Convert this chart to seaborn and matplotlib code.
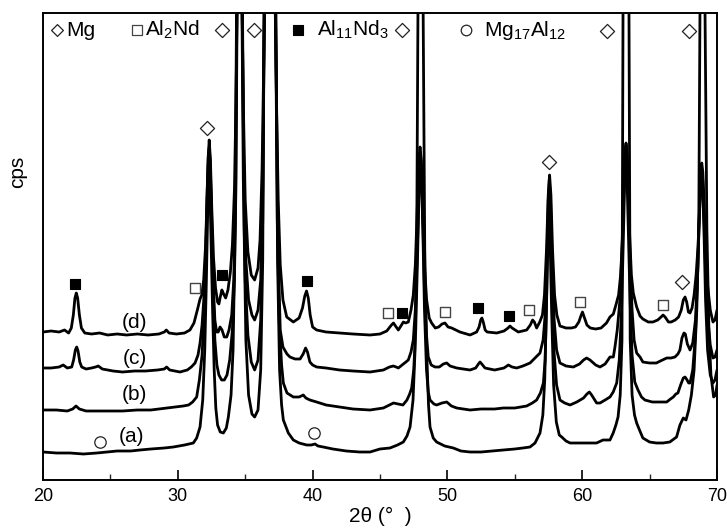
import matplotlib
matplotlib.use("Agg")
import matplotlib.pyplot as plt
import seaborn as sns
import pandas as pd
from matplotlib.ticker import MultipleLocator

# ---------------- data ----------------
# x = 2theta (deg), y = intensity in arbitrary units (axis shows no scale)
curve_d = [(20.0,148),(20.6,149),(21.2,148),(21.6,150),(21.9,147),(22.1,152),(22.25,165),(22.37,182),(22.47,187),(22.57,182),(22.7,165),(22.85,152),(23.1,147),(23.6,146),(24.2,147),(24.8,145),(25.5,146),(26.2,145),(27.0,146),(27.8,145),(28.6,146),(29.0,148),(29.15,150),(29.35,147),(29.9,146),(30.5,147),(30.9,150),(31.2,157),(31.45,170),(31.65,181),(31.78,185),(31.92,200),(32.05,232),(32.15,272),(32.25,322),(32.33,340),(32.42,320),(32.52,272),(32.65,222),(32.8,192),(32.95,178),(33.05,176),(33.15,183),(33.27,190),(33.4,186),(33.55,182),(33.72,190),(33.9,208),(34.05,235),(34.2,290),(34.32,380),(34.4,470),(34.58,1500),(34.77,470),(34.87,370),(35.0,280),(35.2,228),(35.45,205),(35.7,200),(35.95,212),(36.1,240),(36.25,310),(36.38,420),(36.45,480),(36.83,2000),(37.22,480),(37.32,380),(37.45,280),(37.6,215),(37.8,180),(38.08,163),(38.57,158),(39.0,162),(39.25,172),(39.42,184),(39.55,189),(39.68,182),(39.82,165),(40.0,153),(40.3,150),(41.0,148),(42.0,147),(43.0,146),(44.26,145),(45.0,146),(45.5,149),(45.85,155),(46.0,157),(46.15,154),(46.36,150),(46.55,154),(46.73,158),(46.9,157),(47.1,158),(47.3,170),(47.47,185),(47.62,215),(47.75,265),(47.88,320),(47.97,333),(48.06,320),(48.18,265),(48.32,210),(48.46,180),(48.65,162),(48.83,157),(49.1,152),(49.35,153),(49.6,156),(49.82,157),(50.05,153),(50.32,152),(50.93,148),(51.68,145),(52.17,148),(52.35,153),(52.47,160),(52.56,162),(52.66,158),(52.8,150),(52.95,148),(53.66,147),(54.2,149),(54.5,152),(54.64,154),(54.8,152),(55.26,148),(55.88,150),(56.15,155),(56.32,160),(56.45,158),(56.62,152),(56.85,158),(57.05,165),(57.2,185),(57.35,230),(57.48,285),(57.58,305),(57.68,285),(57.8,230),(57.95,185),(58.12,165),(58.35,154),(58.8,152),(59.2,152),(59.5,153),(59.75,158),(59.9,164),(60.02,168),(60.15,163),(60.35,155),(60.6,152),(61.0,151),(61.4,152),(61.8,157),(62.06,163),(62.31,166),(62.5,175),(62.7,185),(62.85,205),(63.0,245),(63.1,290),(63.18,325),(63.25,337),(63.33,325),(63.42,290),(63.52,245),(63.65,205),(63.79,187),(64.04,173),(64.29,164),(64.5,161),(64.9,158),(65.25,158),(65.6,160),(65.85,163),(66.0,165),(66.15,163),(66.4,158),(66.6,158),(66.9,160),(67.15,163),(67.35,170),(67.5,180),(67.63,183),(67.75,178),(67.88,168),(68.0,167),(68.15,172),(68.3,185),(68.45,205),(68.6,235),(68.72,280),(68.8,310),(68.87,317),(68.95,308),(69.05,275),(69.15,230),(69.3,195),(69.5,170),(69.7,158),(69.85,160),(70.0,170)]

curve_c = [(20.0,112),(20.6,112),(21.2,113),(21.5,115),(21.8,112),(22.13,113),(22.27,120),(22.4,130),(22.5,133),(22.6,129),(22.73,118),(22.87,113),(23.2,111),(23.6,112),(23.9,113),(24.1,114),(24.4,111),(25.2,109),(25.9,108),(26.8,109),(27.6,109),(28.5,110),(29.0,111),(29.17,113),(29.4,110),(30.16,108),(30.7,110),(31.0,113),(31.28,117),(31.5,125),(31.65,137),(31.8,155),(31.95,185),(32.08,230),(32.18,290),(32.27,325),(32.33,332),(32.4,320),(32.5,270),(32.62,200),(32.75,160),(32.88,148),(33.0,148),(33.13,153),(33.28,150),(33.45,143),(33.63,143),(33.8,150),(34.0,165),(34.15,200),(34.28,280),(34.38,470),(34.58,1500),(34.78,470),(34.9,300),(35.05,220),(35.25,180),(35.5,165),(35.7,160),(35.95,170),(36.15,200),(36.3,290),(36.42,470),(36.83,2000),(37.25,470),(37.38,300),(37.5,200),(37.6,150),(37.8,133),(38.1,126),(38.32,123),(38.7,121),(39.07,121),(39.3,126),(39.48,132),(39.62,128),(39.8,118),(40.0,115),(40.3,113),(41.0,112),(42.0,110),(43.0,109),(44.26,108),(45.25,110),(45.7,113),(45.99,114),(46.2,113),(46.36,112),(46.55,114),(46.73,116),(46.92,118),(47.1,120),(47.3,128),(47.47,140),(47.62,170),(47.77,230),(47.9,300),(47.98,328),(48.06,318),(48.18,260),(48.3,190),(48.45,145),(48.58,123),(48.8,115),(49.08,113),(49.4,113),(49.7,116),(49.95,117),(50.2,114),(50.69,112),(51.2,111),(51.68,110),(52.1,112),(52.3,116),(52.42,118),(52.55,116),(52.79,112),(53.5,110),(54.2,112),(54.52,115),(54.8,113),(55.14,112),(55.6,114),(56.13,117),(56.5,122),(56.87,127),(57.1,140),(57.25,165),(57.38,220),(57.48,280),(57.56,300),(57.65,280),(57.77,220),(57.92,160),(58.1,130),(58.35,117),(58.8,114),(59.34,113),(59.8,116),(60.1,120),(60.33,122),(60.58,120),(61.0,115),(61.32,113),(61.7,116),(62.06,123),(62.31,123),(62.43,133),(62.6,150),(62.8,180),(62.95,230),(63.08,290),(63.18,328),(63.25,335),(63.33,322),(63.43,280),(63.55,220),(63.7,170),(63.85,140),(64.04,127),(64.29,123),(64.5,118),(65.0,117),(65.5,117),(65.8,119),(66.27,122),(66.6,122),(66.88,123),(67.1,126),(67.25,130),(67.4,142),(67.55,147),(67.65,146),(67.8,136),(68.0,130),(68.2,137),(68.4,160),(68.55,200),(68.68,260),(68.78,300),(68.86,310),(68.94,300),(69.05,260),(69.15,210),(69.3,165),(69.5,135),(69.7,122),(69.85,123),(70.0,130)]

curve_b = [(20.0,70),(21.0,70),(21.8,69),(22.2,71),(22.45,74),(22.7,71),(23.2,69),(24.0,69),(25.0,69),(25.9,69),(27.0,70),(28.0,70),(29.17,72),(29.8,73),(30.4,74),(30.8,75),(31.1,78),(31.4,83),(31.6,100),(31.8,125),(31.95,165),(32.08,220),(32.18,280),(32.27,318),(32.33,325),(32.4,315),(32.5,260),(32.62,190),(32.75,140),(32.9,115),(33.05,105),(33.25,100),(33.45,100),(33.65,105),(33.85,120),(34.05,150),(34.2,200),(34.32,300),(34.4,470),(34.58,1500),(34.76,470),(34.86,300),(35.0,200),(35.2,145),(35.45,118),(35.7,110),(35.95,120),(36.15,160),(36.3,260),(36.42,470),(36.83,2000),(37.25,470),(37.38,260),(37.52,160),(37.7,115),(37.83,97),(38.1,87),(38.57,83),(39.0,83),(39.31,85),(39.5,82),(39.8,80),(40.3,78),(41.0,75),(42.0,73),(43.0,71),(44.26,70),(45.25,72),(46.0,77),(46.35,76),(46.7,75),(47.0,80),(47.2,86),(47.35,92),(47.5,110),(47.65,150),(47.78,220),(47.9,290),(47.98,322),(48.06,312),(48.18,250),(48.3,170),(48.45,110),(48.58,88),(48.71,80),(49.0,76),(49.2,75),(49.6,77),(49.95,78),(50.3,74),(50.69,72),(51.68,70),(52.5,71),(53.5,71),(54.15,72),(55.0,72),(55.88,74),(56.3,77),(56.62,80),(56.9,87),(57.12,97),(57.25,120),(57.36,180),(57.46,250),(57.54,285),(57.63,265),(57.75,200),(57.9,130),(58.1,95),(58.35,80),(58.7,77),(59.1,75),(59.6,78),(60.1,82),(60.35,86),(60.53,88),(60.7,85),(61.07,77),(61.32,77),(61.7,80),(62.06,83),(62.3,88),(62.56,97),(62.75,120),(62.92,170),(63.05,240),(63.15,300),(63.24,322),(63.32,305),(63.42,250),(63.55,180),(63.7,125),(63.9,98),(64.14,90),(64.4,83),(64.65,80),(65.2,78),(65.8,78),(66.27,78),(66.55,81),(66.76,83),(66.95,86),(67.1,87),(67.3,95),(67.5,102),(67.63,103),(67.78,100),(67.9,97),(68.0,97),(68.2,110),(68.4,145),(68.55,200),(68.68,260),(68.78,295),(68.86,305),(68.94,290),(69.05,240),(69.15,180),(69.3,130),(69.5,105),(69.7,97),(69.85,100),(70.0,110)]

curve_a = [(20.0,28),(21.0,27),(22.0,27),(23.0,26),(24.0,27),(24.72,28),(25.5,29),(26.5,29),(27.2,30),(28.0,31),(29.0,32),(29.67,33),(30.5,35),(31.15,37),(31.4,42),(31.65,53),(31.85,80),(32.0,130),(32.12,200),(32.22,270),(32.3,310),(32.36,305),(32.45,250),(32.58,170),(32.7,110),(32.82,72),(32.95,55),(33.15,48),(33.38,47),(33.6,52),(33.75,63),(33.95,85),(34.1,130),(34.25,250),(34.36,470),(34.58,1500),(34.8,470),(34.92,250),(35.05,140),(35.25,85),(35.5,66),(35.7,63),(35.95,70),(36.15,110),(36.3,220),(36.4,470),(36.83,2000),(37.28,470),(37.4,220),(37.55,110),(37.7,75),(37.83,60),(38.2,47),(38.57,40),(39.0,37),(39.56,35),(39.9,35),(40.18,36),(40.4,34),(40.79,33),(41.5,31),(42.5,29),(43.5,28),(44.26,28),(45.0,31),(45.74,32),(46.3,35),(46.73,38),(47.0,44),(47.23,53),(47.45,80),(47.6,130),(47.72,230),(47.82,470),(48.02,2000),(48.2,470),(48.32,230),(48.46,130),(48.6,75),(48.71,53),(48.95,42),(49.2,38),(49.8,34),(50.44,32),(51.0,29),(51.68,28),(52.5,28),(53.3,29),(54.15,30),(55.0,31),(55.6,32),(56.13,33),(56.5,37),(56.87,47),(57.08,65),(57.22,100),(57.34,170),(57.44,240),(57.52,270),(57.61,245),(57.73,170),(57.88,95),(58.08,58),(58.3,45),(58.48,43),(58.8,39),(59.1,37),(60.0,37),(60.58,37),(61.07,37),(61.54,40),(62.06,40),(62.3,47),(62.5,55),(62.66,63),(62.82,85),(62.95,140),(63.03,470),(63.24,2000),(63.47,470),(63.56,140),(63.7,85),(63.88,65),(64.04,57),(64.25,50),(64.5,42),(65.0,38),(65.5,37),(66.0,37),(66.5,38),(67.0,43),(67.25,55),(67.5,62),(67.7,60),(67.9,70),(68.1,85),(68.3,110),(68.5,170),(68.65,260),(68.74,470),(68.92,2000),(69.11,470),(69.25,250),(69.4,150),(69.55,105),(69.75,83),(69.9,85),(70.0,95)]

curve_names = ["(a)", "(b)", "(c)", "(d)"]
curve_label_x = [26.6, 26.75, 26.82, 26.82]
curve_label_y = [43, 85, 122, 158]

# phase markers: (2theta, height)
mg_x = [33.28, 35.65, 32.17, 46.61, 57.56, 61.82, 67.95, 67.43]
mg_y = [450, 450, 352, 450, 318, 449, 449, 198]
al2nd_x = [31.28, 45.59, 49.82, 56.05, 59.84, 66.0]
al2nd_y = [192, 167, 168, 170, 178, 175]
al11nd3_x = [22.37, 33.28, 39.58, 46.63, 52.27, 54.57]
al11nd3_y = [196, 205, 199, 167, 172, 164]
mg17al12_x = [24.23, 40.1]
mg17al12_y = [38, 47]

# key at the top
key_marker_x = [21.04, 26.97, 38.9, 51.38]
key_text_x = [21.72, 27.6, 40.35, 52.68]
key_y = 450
key_texts = ["Mg", r"Al$_\mathregular{2}$Nd", r"Al$_\mathregular{11}$Nd$_\mathregular{3}$",
             r"Mg$_\mathregular{17}$Al$_\mathregular{12}$"]

x_ticks = [20, 30, 40, 50, 60, 70]

# ---------------- drawing ----------------
sns.set_theme(style="white")
plt.rcParams["font.family"] = ["Liberation Sans", "DejaVu Sans"]
plt.rcParams["mathtext.fontset"] = "custom"
plt.rcParams["mathtext.rm"] = "Liberation Sans"

fig = plt.figure(figsize=(7.27, 5.29), dpi=100)
ax = fig.add_axes([43/727, 49/529, 674/727, 467/529])

for name, curve in zip(curve_names, [curve_a, curve_b, curve_c, curve_d]):
    df = pd.DataFrame(curve, columns=["x", "y"])
    sns.lineplot(data=df, x="x", y="y", sort=False, estimator=None,
                 color="black", lw=2.0, ax=ax)

for nm, lx, ly in zip(curve_names, curve_label_x, curve_label_y):
    ax.text(lx, ly, nm, fontsize=15, ha="center", va="center", color="black")

ms_kw = dict(zorder=5, clip_on=False)
ax.scatter(mg_x, mg_y, marker="D", s=7.2**2, facecolors="white",
           edgecolors="#222222", linewidths=0.9, **ms_kw)
ax.scatter(al2nd_x, al2nd_y, marker="s", s=7.6**2, facecolors="white",
           edgecolors="#444444", linewidths=1.0, **ms_kw)
ax.scatter(al11nd3_x, al11nd3_y, marker="s", s=7.6**2, facecolors="black",
           edgecolors="black", linewidths=0.8, **ms_kw)
ax.scatter(mg17al12_x, mg17al12_y, marker="o", s=8.2**2, facecolors="white",
           edgecolors="#222222", linewidths=0.9, **ms_kw)

# key
ax.scatter([key_marker_x[0]], [key_y], marker="D", s=6.0**2, facecolors="white",
           edgecolors="#222222", linewidths=0.9, **ms_kw)
ax.scatter([key_marker_x[1]], [key_y], marker="s", s=6.8**2, facecolors="white",
           edgecolors="#444444", linewidths=0.9, **ms_kw)
ax.scatter([key_marker_x[2]], [key_y], marker="s", s=7.2**2, facecolors="black",
           edgecolors="black", linewidths=0.8, **ms_kw)
ax.scatter([key_marker_x[3]], [key_y], marker="o", s=7.6**2, facecolors="white",
           edgecolors="#222222", linewidths=0.9, **ms_kw)
for tx, t in zip(key_text_x, key_texts):
    ax.text(tx, key_y, t, fontsize=15, ha="left", va="center", color="black")

ax.set_xlim(20, 70)
ax.set_ylim(0, 467)
ax.set_xticks(x_ticks)
ax.xaxis.set_minor_locator(MultipleLocator(5))
ax.set_yticks([])
ax.tick_params(axis="x", which="major", direction="in", length=7, width=1.2,
               labelsize=13, pad=6, bottom=True, top=False, colors="black")
ax.tick_params(axis="x", which="minor", direction="in", length=4, width=1.0,
               bottom=True, top=False)
for sp in ax.spines.values():
    sp.set_color("black")
    sp.set_linewidth(1.4)
    sp.set_visible(True)

ax.set_xlabel("2θ (°  )", fontsize=15, labelpad=1, color="black")
ax.set_ylabel("cps", fontsize=15, labelpad=8, color="black")
ax.yaxis.set_label_coords(-0.024, 0.66)

fig.savefig("out.png", dpi=100)
